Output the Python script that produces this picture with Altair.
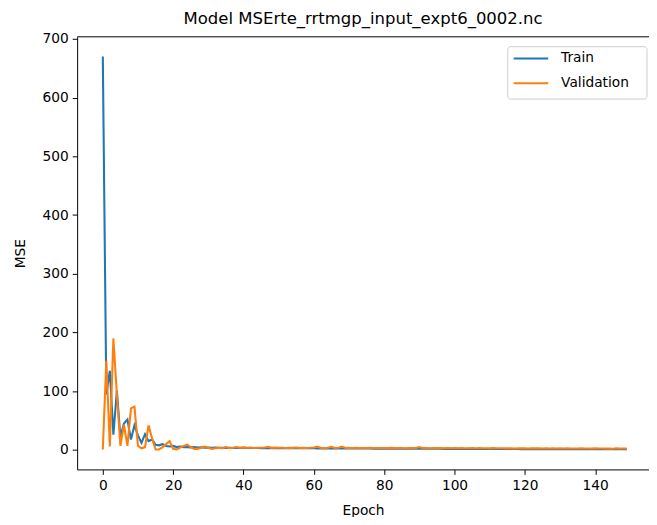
import altair as alt
import pandas as pd

train = [
    670, 95, 135, 26, 101, 22, 45, 52, 18, 42,
    25, 12, 27, 15, 18, 9, 8, 10, 7, 6,
    7, 5, 6, 5, 5, 4.5, 5, 4.2, 4.5, 4.0,
    4.2, 3.9, 4.1, 3.8, 4.0, 3.7, 3.9, 3.6, 3.8, 3.5,
    3.7, 3.5, 3.6, 3.4, 3.5, 3.3, 3.5, 3.2, 3.4, 3.2,
    3.3, 3.1, 3.2, 3.0, 3.2, 3.0, 3.1, 2.9, 3.0, 2.9,
    3.0, 2.8, 2.9, 2.8, 2.9, 2.7, 2.8, 2.7, 2.8, 2.6,
    2.7, 2.6, 2.7, 2.5, 2.6, 2.5, 2.6, 2.4, 2.5, 2.4,
    2.5, 2.4, 2.4, 2.3, 2.4, 2.3, 2.3, 2.2, 2.3, 2.2,
    2.3, 2.2, 2.2, 2.1, 2.2, 2.1, 2.1, 2.0, 2.1, 2.0,
    2.1, 2.0, 2.0, 1.9, 2.0, 1.9, 1.9, 1.9, 1.8, 1.9,
    1.8, 1.8, 1.9, 1.7, 1.8, 1.7, 1.8, 1.7, 1.7, 1.6,
    1.7, 1.6, 1.7, 1.6, 1.6, 1.5, 1.6, 1.5, 1.6, 1.5,
    1.5, 1.5, 1.4, 1.5, 1.4, 1.5, 1.4, 1.4, 1.3, 1.4,
    1.3, 1.4, 1.3, 1.3, 1.2, 1.3, 1.2, 1.3, 1.2, 1.2,
]

validation = [
    1, 152, 6, 190, 95, 7, 43, 7, 71, 74,
    7, 3, 5, 42, 20, 1, 1, 5, 10, 15,
    2, 1, 4, 7, 9, 5, 2, 2, 4, 6,
    4, 2, 3, 4, 3, 5, 3, 4, 5, 4,
    4.5, 3.8, 4.2, 3.6, 4.0, 3.9, 4.4, 5.5, 3.7, 4.1,
    3.8, 4.0, 3.6, 3.9, 3.7, 4.2, 3.5, 3.8, 3.6, 3.9,
    4.4, 6.0, 3.6, 3.2, 3.8, 5.6, 3.4, 3.9, 5.8, 3.5,
    3.7, 3.4, 3.8, 3.3, 3.6, 3.5, 3.9, 3.2, 3.6, 3.4,
    3.5, 3.3, 3.7, 3.2, 3.4, 3.6, 3.1, 3.5, 3.3, 3.4,
    5.0, 3.2, 3.4, 3.1, 3.3, 3.2, 3.5, 3.0, 3.2, 3.1,
    3.3, 3.0, 3.4, 3.1, 2.9, 3.3, 3.0, 3.2, 2.9, 3.1,
    2.8, 3.2, 3.0, 2.9, 3.1, 2.8, 3.0, 2.7, 3.1, 2.8,
    3.0, 2.7, 2.9, 2.8, 3.0, 2.6, 2.9, 2.7, 2.8, 2.6,
    2.9, 2.6, 2.8, 2.5, 2.7, 2.6, 2.9, 2.5, 2.7, 2.4,
    2.8, 2.5, 2.6, 2.4, 2.7, 2.3, 3.0, 2.4, 2.6, 2.5,
]

series_names = ["Train", "Validation"]
series_colors = ["#1f77b4", "#ff7f0e"]
x_ticks = [0, 20, 40, 60, 80, 100, 120, 140]
y_ticks = [0, 100, 200, 300, 400, 500, 600, 700]

rows = []
for i, v in enumerate(train):
    rows.append({"Epoch": i, "MSE": v, "series": "Train"})
for i, v in enumerate(validation):
    rows.append({"Epoch": i, "MSE": v, "series": "Validation"})
df = pd.DataFrame(rows)

FONT = "DejaVu Sans"
W, H = 579, 438

color_scale = alt.Scale(domain=series_names, range=series_colors)

lines = alt.Chart(df).mark_line(strokeWidth=2.1, clip=True).encode(
    x=alt.X(
        "Epoch:Q",
        scale=alt.Scale(domain=[-7.3, 155.3], nice=False, zero=False),
        axis=alt.Axis(
            values=x_ticks, title="Epoch", grid=False, tickSize=5,
            labelPadding=4, titlePadding=12, labelFontSize=13.9, titleFontSize=13.9,
            titleFontWeight="normal", labelFont=FONT, titleFont=FONT,
            domainColor="black", tickColor="black", labelColor="black", titleColor="black",
        ),
    ),
    y=alt.Y(
        "MSE:Q",
        scale=alt.Scale(domain=[-33, 703.5], nice=False, zero=False),
        axis=alt.Axis(
            values=y_ticks, title="MSE", grid=False, tickSize=5,
            labelPadding=4, titlePadding=15, labelFontSize=13.9, titleFontSize=13.9,
            titleFontWeight="normal", labelFont=FONT, titleFont=FONT,
            domainColor="black", tickColor="black", labelColor="black", titleColor="black",
        ),
    ),
    color=alt.Color("series:N", scale=color_scale, legend=None),
    order=alt.Order("Epoch:Q"),
)

top_border = alt.Chart(pd.DataFrame({"a": [0]})).mark_rule(color="black", strokeWidth=1).encode(
    x=alt.value(0), x2=alt.value(W), y=alt.value(0)
)

# legend (decoration)
legend_box = alt.Chart(pd.DataFrame({"a": [0]})).mark_rect(
    fill="white", fillOpacity=0.8, stroke="#cccccc", strokeWidth=1, cornerRadius=3
).encode(
    x=alt.value(436), x2=alt.value(577), y=alt.value(10), y2=alt.value(63)
)

legend_layers = [legend_box]
for k, (name, col) in enumerate(zip(series_names, series_colors)):
    ly = 22 + 25 * k
    ldf = pd.DataFrame({"series": [name]})
    legend_layers.append(
        alt.Chart(ldf).mark_rule(color=col, strokeWidth=2.1).encode(
            x=alt.value(442), x2=alt.value(477), y=alt.value(ly)
        )
    )
    legend_layers.append(
        alt.Chart(ldf).mark_text(
            align="left", baseline="middle", font=FONT, fontSize=13.9, color="black"
        ).encode(x=alt.value(490), y=alt.value(ly), text="series:N")
    )

chart = alt.layer(lines, top_border, *legend_layers).properties(
    width=W, height=H,
    title=alt.TitleParams(
        "Model MSErte_rrtmgp_input_expt6_0002.nc",
        fontSize=16.7, font=FONT, fontWeight="normal", color="black",
        anchor="middle", offset=4, dx=0,
    ),
    autosize=alt.AutoSizeParams(type="none"),
    padding={"left": 70, "top": 26, "right": 0, "bottom": 45},
).configure_view(stroke=None)

chart.save("out.html", embed_options={"renderer": "svg", "actions": False})
